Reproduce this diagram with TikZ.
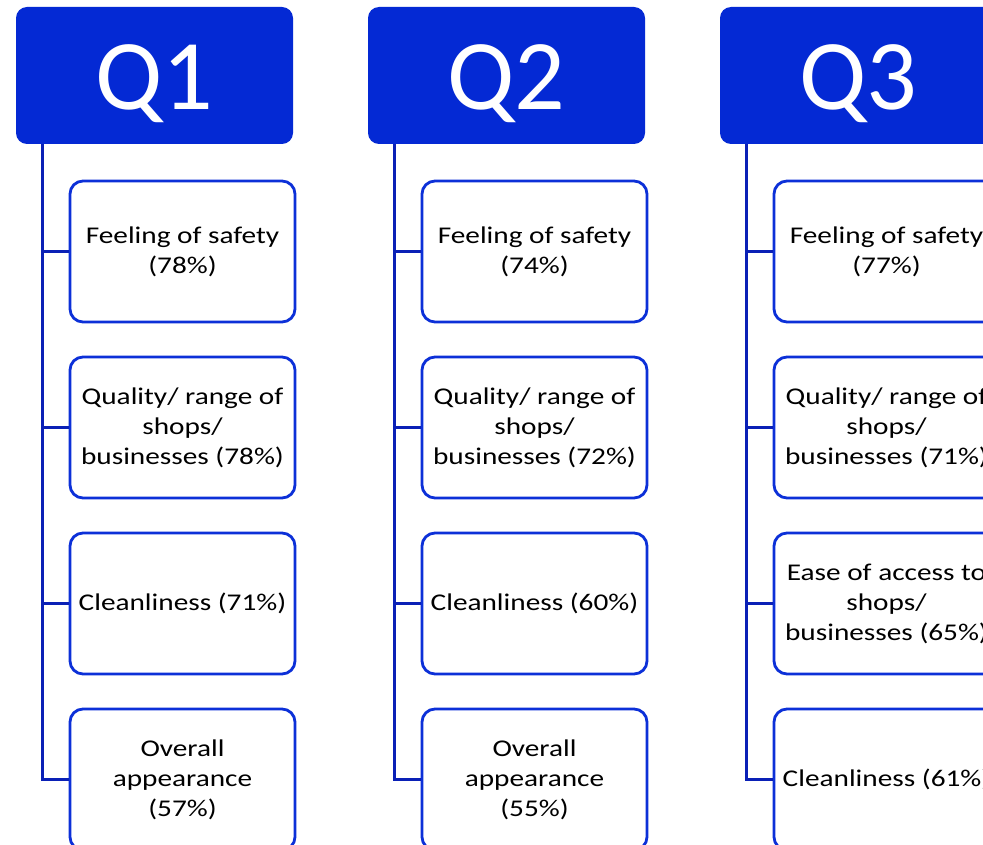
\documentclass[tikz,border=0pt]{standalone}
\usepackage{fontspec}
\setmainfont{Carlito}
\newfontfamily\boxfont[FakeStretch=1.22]{Carlito}
\definecolor{hdrblue}{RGB}{4,41,212}
\definecolor{boxblue}{RGB}{12,48,216}
\definecolor{lineblue}{RGB}{10,32,182}
\begin{document}
\begin{tikzpicture}[x=1pt,y=-1pt,
  hdr/.style={fill=hdrblue, draw=none, rounded corners=11pt, minimum width=277pt, minimum height=137pt, inner sep=0pt, text=white, text height=69pt, text depth=0pt, font=\fontsize{100}{110}\selectfont},
  itembox/.style={draw=boxblue, line width=2.8pt, fill=white, rounded corners=13pt, minimum width=225pt, minimum height=141pt, inner sep=0pt, align=center, font=\boxfont\fontsize{24}{30}\selectfont},
  conn/.style={draw=lineblue, line width=3pt}]
\useasboundingbox (0,0) rectangle (983,845);
\clip (0,0) rectangle (983,845);
\fill[white] (0,0) rectangle (983,845);
% headers
\node[hdr] (h1) at (154.5,75.5) {Q1};
\node[hdr] (h2) at (506.5,75.5) {Q2};
\node[hdr] (h3) at (858.5,75.5) {Q3};
% spine coordinates
\coordinate (v1) at (42,144);
\coordinate (v2) at (394,144);
\coordinate (v3) at (746,144);
% Q1 boxes
\node[itembox] (b11) at (182.5,251.5) {Feeling of safety\\(78\%)};
\node[itembox] (b12) at (182.5,427.5) {Quality/ range of\\shops/\\businesses (78\%)};
\node[itembox] (b13) at (182.5,603.5) {Cleanliness (71\%)};
\node[itembox] (b14) at (182.5,779.5) {Overall\\appearance\\(57\%)};
% Q2 boxes
\node[itembox] (b21) at (534.5,251.5) {Feeling of safety\\(74\%)};
\node[itembox] (b22) at (534.5,427.5) {Quality/ range of\\shops/\\businesses (72\%)};
\node[itembox] (b23) at (534.5,603.5) {Cleanliness (60\%)};
\node[itembox] (b24) at (534.5,779.5) {Overall\\appearance\\(55\%)};
% Q3 boxes
\node[itembox] (b31) at (886.5,251.5) {Feeling of safety\\(77\%)};
\node[itembox] (b32) at (886.5,427.5) {Quality/ range of\\shops/\\businesses (71\%)};
\node[itembox] (b33) at (886.5,603.5) {Ease of access to\\shops/\\businesses (65\%)};
\node[itembox] (b34) at (886.5,779.5) {Cleanliness (61\%)};
% connectors
\foreach \c in {1,2,3}{
  \draw[conn] (v\c) |- (b\c4.west);
  \foreach \r in {1,2,3}{
    \draw[conn] (v\c |- b\c\r.west) -- (b\c\r.west);
  }
}
\end{tikzpicture}
\end{document}
